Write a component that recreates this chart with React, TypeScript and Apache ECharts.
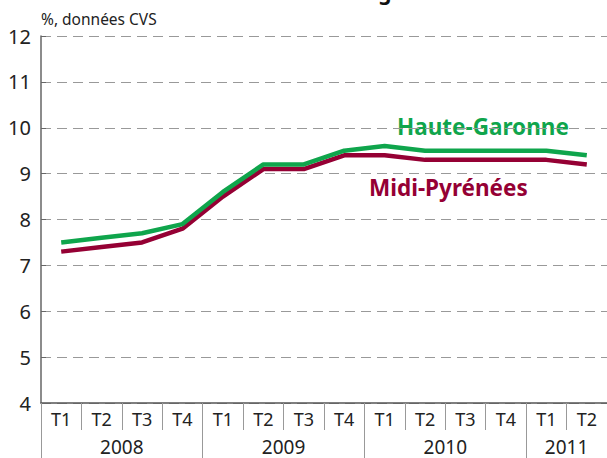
import React, { useEffect, useRef } from "react";
import * as echarts from "echarts";

const quarters = ["T1", "T2", "T3", "T4", "T1", "T2", "T3", "T4", "T1", "T2", "T3", "T4", "T1", "T2"];
const years = ["2008", "2009", "2010", "2011"];
const quartersPerYear = [4, 4, 4, 2];
const hauteGaronne = [7.5, 7.6, 7.7, 7.9, 8.6, 9.2, 9.2, 9.5, 9.6, 9.5, 9.5, 9.5, 9.5, 9.4];
const midiPyrenees = [7.3, 7.4, 7.5, 7.8, 8.5, 9.1, 9.1, 9.4, 9.4, 9.3, 9.3, 9.3, 9.3, 9.2];

const GREEN = "#0fa54c";
const RED = "#950034";
const FONT = "'Noto Sans', 'Open Sans', sans-serif";

export default function App() {
  const ref = useRef<HTMLDivElement>(null);
  useEffect(() => {
    if (!ref.current) return;
    const chart = echarts.init(ref.current, null, { renderer: "svg" });

    const yearStarts: number[] = [];
    const yearCenters: number[] = [];
    let acc = 0;
    quartersPerYear.forEach((n) => {
      yearStarts.push(acc);
      yearCenters.push(acc + n / 2);
      acc += n;
    });
    const total = acc;

    chart.setOption({
      animation: false,
      textStyle: { fontFamily: FONT },
      grid: { left: 41, top: 36, width: 575, height: 367 },
      graphic: [
        {
          type: "text",
          left: 222,
          top: -19,
          style: { text: "Taux de chômage", font: `bold 21px ${FONT}`, fill: "#111" },
        },
        {
          type: "text",
          x: 397,
          y: 126,
          style: {
            text: "Haute-Garonne",
            font: `bold 22.5px ${FONT}`,
            fill: GREEN,
            verticalAlign: "middle",
          },
        },
        {
          type: "text",
          x: 369,
          y: 187,
          style: {
            text: "Midi-Pyrénées",
            font: `bold 22.5px ${FONT}`,
            fill: RED,
            verticalAlign: "middle",
          },
        },
      ],
      xAxis: [
        {
          type: "category",
          data: quarters,
          boundaryGap: true,
          position: "bottom",
          axisLine: { lineStyle: { color: "#555", width: 1.5 } },
          axisTick: { show: true, interval: 0, length: 27, lineStyle: { color: "#999", width: 1 } },
          axisLabel: { interval: 0, fontSize: 18, color: "#222", margin: 7, fontFamily: FONT },
          splitLine: { show: false },
        },
        {
          type: "value",
          min: 0,
          max: total,
          position: "bottom",
          axisLine: { show: false },
          axisTick: {
            show: true,
            customValues: yearStarts,
            length: 57,
            lineStyle: { color: "#999", width: 1 },
          },
          axisLabel: {
            customValues: yearCenters,
            fontSize: 19,
            color: "#222",
            margin: 34,
            fontFamily: FONT,
            formatter: (v: number) => {
              const i = yearCenters.findIndex((c) => Math.abs(c - v) < 1e-6);
              return i >= 0 ? years[i] : "";
            },
          },
          splitLine: { show: false },
        },
      ],
      yAxis: {
        type: "value",
        min: 4,
        max: 12,
        interval: 1,
        name: "%, données CVS",
        nameLocation: "end",
        nameGap: 9,
        nameTextStyle: { align: "left", fontSize: 15.5, color: "#222", fontFamily: FONT },
        axisLine: { show: true, lineStyle: { color: "#666", width: 1.5 } },
        axisTick: { show: true, inside: true, length: 5, lineStyle: { color: "#666" } },
        axisLabel: { fontSize: 20, color: "#222", margin: 10, fontFamily: FONT },
        splitLine: { show: true, lineStyle: { color: "#999", width: 1.2, type: [10, 6] } },
      },
      series: [
        {
          name: "Midi-Pyrénées",
          type: "line",
          data: midiPyrenees,
          symbol: "none",
          lineStyle: { color: RED, width: 4.5 },
          xAxisIndex: 0,
        },
        {
          name: "Haute-Garonne",
          type: "line",
          data: hauteGaronne,
          symbol: "none",
          lineStyle: { color: GREEN, width: 4.5 },
          xAxisIndex: 0,
        },
      ],
    });
    return () => chart.dispose();
  }, []);
  return (
    <div
      ref={ref}
      style={{ position: "fixed", left: 0, top: 0, width: 607, height: 458, background: "#fff" }}
    />
  );
}
